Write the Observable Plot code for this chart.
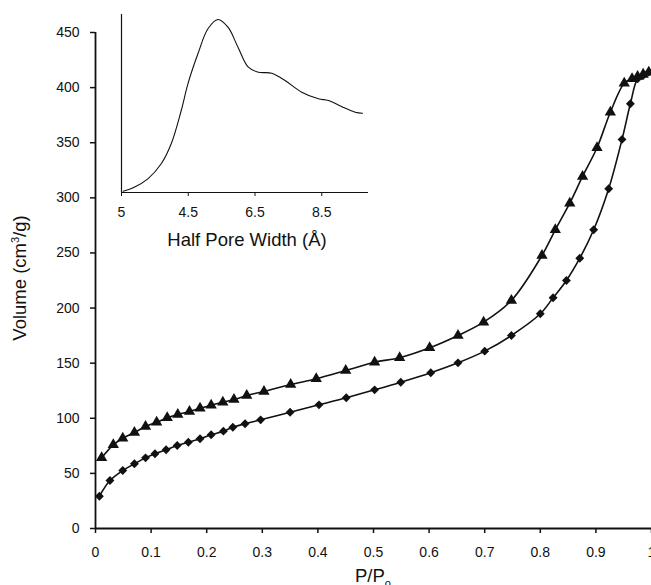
<!DOCTYPE html>
<html>
<head>
<meta charset="utf-8">
<script src="https://cdn.jsdelivr.net/npm/d3@7"></script>
<script src="https://cdn.jsdelivr.net/npm/@observablehq/plot@0.6"></script>
<style>
  html, body { margin: 0; padding: 0; background: white; }
  #wrap { position: relative; width: 651px; height: 585px; overflow: hidden; }
  #wrap svg { position: absolute; left: 0; top: 0; }
</style>
</head>
<body>
<div id="wrap"></div>
<script>
// Adsorption branch (diamonds)
const adsP = [0.007,0.026,0.049,0.070,0.090,0.107,0.127,0.147,0.167,0.188,0.208,0.230,0.247,0.269,0.297,0.350,0.402,0.451,0.502,0.549,0.603,0.652,0.700,0.748,0.800,0.823,0.847,0.871,0.896,0.923,0.947,0.962,0.975,0.985,0.995];
const adsV = [29.3,43.5,52.6,58.7,64.1,67.8,71.4,75.3,78.3,81.4,85,88.3,91.9,95,98.6,105.5,112.2,118.6,125.8,132.7,141.3,150.3,160.9,175.1,194.8,209.3,225,245.2,271,308.2,353,385.3,408,411,414];
// Desorption branch (triangles)
const desP = [0.011,0.032,0.049,0.070,0.090,0.110,0.129,0.148,0.169,0.188,0.208,0.229,0.249,0.272,0.303,0.351,0.397,0.450,0.502,0.547,0.601,0.652,0.698,0.748,0.803,0.827,0.853,0.876,0.902,0.926,0.951,0.965,0.975,0.985,0.995];
const desV = [64.1,75.9,81.9,87.1,92.5,96.4,100.4,103.4,106.1,109.1,111.9,114.6,117,120.7,124.3,130.6,135.8,143.3,150.9,154.9,163.9,175.1,187.2,206.9,247.7,271,295.1,319.4,345.4,377.7,404,408,410,412,414];
// Main axis ticks
const xTicks = [0,0.1,0.2,0.3,0.4,0.5,0.6,0.7,0.8,0.9,1];
const xTickLabels = ["0","0.1","0.2","0.3","0.4","0.5","0.6","0.7","0.8","0.9","1"];
const yTicks = [0,50,100,150,200,250,300,350,400,450];
// Inset: pore size distribution
const inX = [2.55,2.88,3.29,3.69,3.99,4.29,4.49,4.79,5.09,5.39,5.69,5.99,6.30,6.60,7.00,7.40,7.90,8.40,8.70,9.09,9.50,9.72];
const inY = [1.3,5.3,13.7,28.7,48.7,82,108.7,138.7,163.7,173,165.3,145.3,125.3,120.3,119.3,112,100.3,93.7,92,86,80.3,79.3];
const inTicks = [2.5,4.5,6.5,8.5];
const inTickLabels = ["5","4.5","6.5","8.5"];

const ads = adsP.map((p,i)=>({p, v: adsV[i]}));
const des = desP.map((p,i)=>({p, v: desV[i]}));
const pore = inX.map((x,i)=>({x, y: inY[i]}));

const font = "'Liberation Sans', Arial, Helvetica, sans-serif";

const main = Plot.plot({
  width: 651, height: 585,
  marginLeft: 95, marginRight: 0, marginTop: 32, marginBottom: 57,
  style: {fontFamily: font, fontSize: "14px", color: "#111", background: "white", overflow: "visible"},
  x: {domain: [0,1]},
  y: {domain: [0,450]},
  marks: [
    Plot.axisX({ticks: xTicks, tickFormat: (d)=>xTickLabels[xTicks.indexOf(d)], tickSize: 5, tickPadding: 14, strokeWidth: 1.5, label: null}),
    Plot.axisY({ticks: yTicks, tickSize: 5, tickPadding: 11, strokeWidth: 1.5, label: null}),
    Plot.ruleX([0], {strokeWidth: 1.8, stroke: "#111"}),
    Plot.ruleY([0], {strokeWidth: 1.8, stroke: "#111"}),
    Plot.line(des, {x: "p", y: "v", curve: "catmull-rom", stroke: "#111", strokeWidth: 1.6}),
    Plot.line(ads, {x: "p", y: "v", curve: "catmull-rom", stroke: "#111", strokeWidth: 1.6}),
    Plot.dot(des, {x: "p", y: "v", symbol: "triangle", r: 4.2, fill: "#111", stroke: "none"}),
    Plot.dot(ads, {x: "p", y: "v", symbol: "diamond2", r: 4, fill: "#111", stroke: "none"})
  ]
});

const inset = Plot.plot({
  width: 651, height: 585,
  marginLeft: 121, marginRight: 283, marginTop: 14, marginBottom: 393,
  style: {fontFamily: font, fontSize: "14px", color: "#111", background: "transparent", overflow: "visible"},
  x: {domain: [2.5, 9.9]},
  y: {domain: [0, 178], axis: null},
  marks: [
    Plot.axisX({ticks: inTicks, tickFormat: (d)=>inTickLabels[inTicks.indexOf(d)], tickSize: 4, tickPadding: 11, label: null}),
    Plot.ruleX([2.5], {stroke: "#111", strokeWidth: 1.2}),
    Plot.ruleY([0], {stroke: "#111", strokeWidth: 1.2}),
    Plot.line(pore, {x: "x", y: "y", curve: "catmull-rom", stroke: "#111", strokeWidth: 1.1})
  ]
});

const wrap = document.getElementById("wrap");
wrap.appendChild(main);
wrap.appendChild(inset);

// Axis titles
const ms = d3.select(main);
const yl = ms.append("text")
  .attr("transform", "translate(26,278) rotate(-90)")
  .attr("text-anchor", "middle")
  .attr("font-family", font).attr("font-size", 18.5).attr("fill", "#111");
yl.append("tspan").text("Volume (cm");
yl.append("tspan").attr("font-size", 11).attr("dy", -7).text("3");
yl.append("tspan").attr("dy", 7).text("/g)");

const xl = ms.append("text")
  .attr("x", 373).attr("y", 582)
  .attr("text-anchor", "middle")
  .attr("font-family", font).attr("font-size", 18.5).attr("fill", "#111");
xl.append("tspan").text("P/P");
xl.append("tspan").attr("font-size", 11).attr("dy", 5).text("o");

d3.select(inset).append("text")
  .attr("x", 247).attr("y", 246)
  .attr("text-anchor", "middle")
  .attr("font-family", font).attr("font-size", 18.5).attr("fill", "#111")
  .text("Half Pore Width (Å)");
</script>
</body>
</html>
